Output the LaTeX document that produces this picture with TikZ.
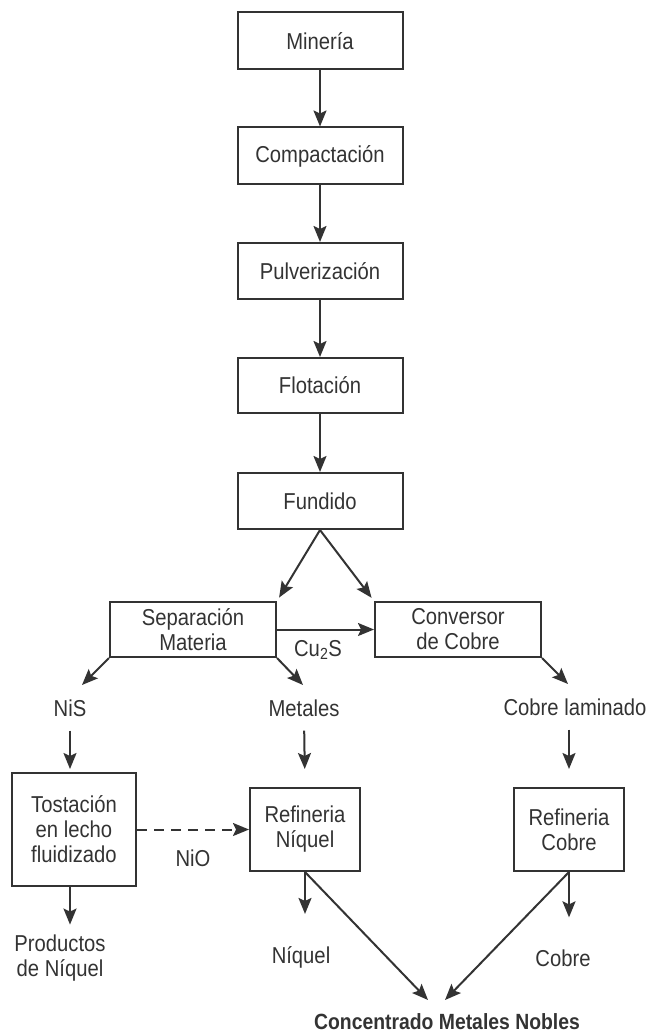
\documentclass[tikz,border=0pt]{standalone}
\usepackage{fontspec}
\setmainfont{Liberation Sans}[FakeStretch=0.88]
\usetikzlibrary{arrows.meta}

\begin{document}
\begin{tikzpicture}[x=1pt,y=-1pt,
  font=\fontsize{23}{25}\selectfont, color=black!80,
  proc/.style={rectangle, draw, line width=2pt, align=center, inner sep=0pt},
  prod/.style={align=center, inner sep=0pt},
  arr/.style={-{Stealth[length=16pt,width=13pt,inset=3pt]}, line width=2pt}
]
\useasboundingbox (0,0) rectangle (651,1035);
% main line
\node (min) at (320,41) [proc, minimum width=165pt, minimum height=57pt] {Minería};
\node (com) at (320,156) [proc, minimum width=165pt, minimum height=57pt] {Compactación};
\node (pul) at (320,271) [proc, minimum width=165pt, minimum height=56pt] {Pulverización};
\node (flo) at (320,385.5) [proc, minimum width=165pt, minimum height=55pt] {Flotación};
\node (fun) at (320,501) [proc, minimum width=165pt, minimum height=56pt] {Fundido};
% second level
\node (sep) at (193,629.5) [proc, minimum width=166pt, minimum height=55pt] {Separación\\Materia};
\node (conv) at (458,629.5) [proc, minimum width=166pt, minimum height=55pt] {Conversor\\de Cobre};
\node (cus) at (318,650) [prod] {Cu\textsubscript{2}S};
\node (nis) at (70,708) [prod] {NiS};
\node (met) at (304,708) [prod] {Metales};
\node (cla) at (575,707) [prod] {Cobre laminado};
% refining
\node (tost) at (74,829.5) [proc, minimum width=124pt, minimum height=113pt] {Tostación\\en lecho\\fluidizado};
\node (rni) at (305,829.5) [proc, minimum width=110pt, minimum height=83pt] {Refineria\\Níquel};
\node (rco) at (569,829.5) [proc, minimum width=110pt, minimum height=83pt] {Refineria\\Cobre};
\node (nio) at (193,858) [prod] {NiO};
% products
\node (prd) at (60,958) [prod] {Productos\\de Níquel};
\node (niq) at (301,957) [prod] {Níquel};
\node (cob) at (563,958) [prod] {Cobre};
\node (conc) at (447,1022) [prod, font=\bfseries\fontsize{22}{24}\selectfont] {Concentrado Metales Nobles};
\coordinate (nisin) at (82,685);
\coordinate (metin) at (303,685);
\coordinate (cobin) at (568,684);
\coordinate (concl) at (428,1000);
\coordinate (concr) at (445,1000);

\draw[arr] (min) -- (com);
\draw[arr] (com) -- (pul);
\draw[arr] (pul) -- (flo);
\draw[arr] (flo) -- (fun);
\draw[arr, shorten >=4pt] (fun.south) -- (sep.north east);
\draw[arr, shorten >=4pt] (fun.south) -- (conv.north west);
\draw[arr] (sep) -- (conv);
\draw[arr] (sep.south west) -- (nisin);
\draw[arr] (sep.south east) -- (metin);
\draw[arr] (conv.south east) -- (cobin);
\draw[arr, shorten <=14pt, shorten >=3pt] (nis.south) -- (nis.south |- tost.north);
\draw[arr, shorten <=14pt, shorten >=18pt] (met.south) -- (rni.north);
\draw[arr, shorten <=14pt, shorten >=18pt] (rco.north |- cla.south) -- (rco.north);
\draw[arr, dash pattern=on 10pt off 7pt] (tost) -- (rni);
\draw[arr, shorten >=10pt] (nis |- tost.south) -- (nis |- prd.north);
\draw[arr, shorten >=32pt] (rni.south) -- (rni.south |- niq.north);
\draw[arr, shorten >=32pt] (rco.south) -- (rco.south |- cob.north);
\draw[arr] (rni.south) -- (concl);
\draw[arr] (rco.south) -- (concr);
\end{tikzpicture}
\end{document}
